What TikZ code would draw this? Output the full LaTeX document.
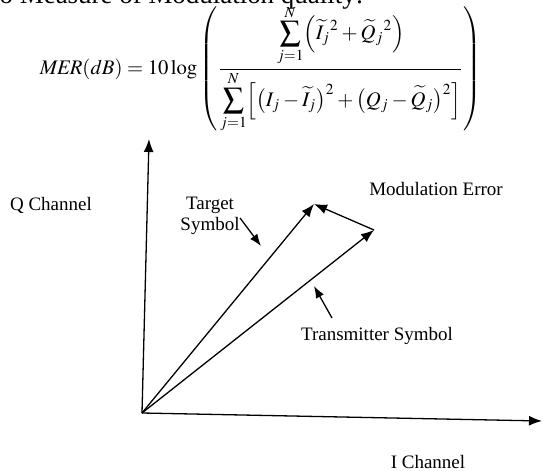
\documentclass[tikz,border=0pt]{standalone}
\usepackage{mathptmx}
\usepackage{fontspec}
\setmainfont{Liberation Serif}
\usetikzlibrary{arrows.meta}
\begin{document}
\begin{tikzpicture}[x=1pt,y=-1pt,
  vec/.style={line width=1.3pt,-{Latex[length=13pt,width=10pt]}},
  ptr/.style={line width=1.3pt,-{Latex[length=12pt,width=9pt]}},
  lbl/.style={font=\fontsize{19}{21}\selectfont,inner sep=0pt,align=center}]
\useasboundingbox (0,0) rectangle (542,471);
\clip (0,0) rectangle (542,471);
% cut-off heading line
\node[anchor=base west,inner sep=0pt] (head) at (-8,4)
  {\resizebox{371pt}{!}{to Measure of Modulation quality:}};
% formula
\node[inner sep=0pt] (formula) at (261,69)
  {\resizebox{442pt}{!}{$\displaystyle \mathit{MER}(dB)=10\log\left(\frac{\displaystyle\sum_{j=1}^{N}\Bigl(\widetilde{I}_j{}^2+\widetilde{Q}_j{}^2\Bigr)}{\displaystyle\sum_{j=1}^{N}\Bigl[\bigl(I_j-\widetilde{I}_j\bigr)^2+\bigl(Q_j-\widetilde{Q}_j\bigr)^2\Bigr]}\right)$}};
% axes
\coordinate (O) at (142,413);
\coordinate (Qtip) at (149,139);
\coordinate (Itip) at (542,421);
\draw[vec] (O) -- (Qtip);
\draw[vec] (O) -- (Itip);
% vectors
\coordinate (T) at (314,204);
\coordinate (R) at (374,230);
\draw[vec] (O) -- (T);
\draw[vec] (O) -- (R);
\draw[vec] (R) -- (T);
% labels
\node[lbl] (qch) at (51,205) {Q Channel};
\node[lbl] (ich) at (428,462) {I Channel};
\node[lbl] (tgt) at (210,216) {Target\\Symbol};
\node[lbl] (merr) at (436,189) {Modulation Error};
\node[lbl] (tx) at (377,336) {Transmitter Symbol};
% pointers
\coordinate (tp0) at (240,218);
\coordinate (tp1) at (261,246);
\draw[ptr] (tp0) -- (tp1);
\coordinate (xp0) at (332,318);
\coordinate (xp1) at (314,286);
\draw[ptr] (xp0) -- (xp1);
\end{tikzpicture}
\end{document}
